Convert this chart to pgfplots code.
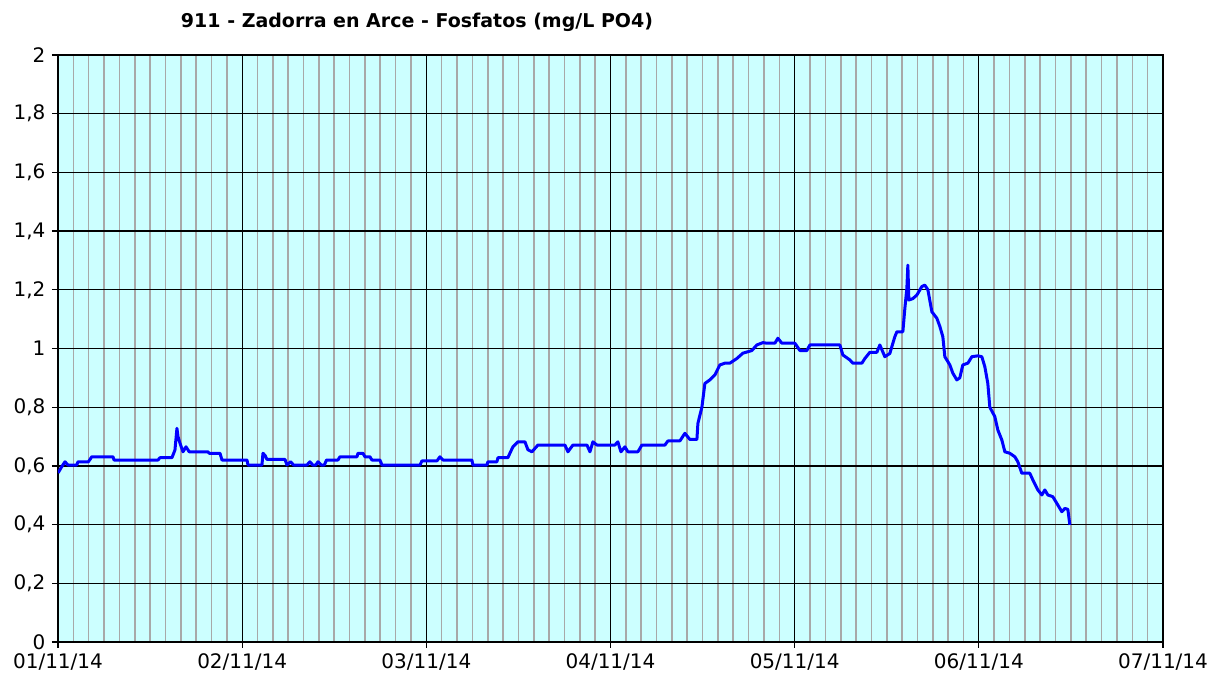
\documentclass[border=0pt]{standalone}
\usepackage{fontspec}
\setmainfont{DejaVu Sans}
\usepackage{pgfplots}
\pgfplotsset{compat=1.18}
\definecolor{bgcyan}{RGB}{204,255,255}
\definecolor{gridgray}{RGB}{168,168,168}
\definecolor{lineblue}{RGB}{0,0,255}
\begin{document}
\begin{tikzpicture}
\useasboundingbox (-58pt,-37pt) rectangle (1153pt,642pt);
\begin{axis}[
  at={(0pt,0pt)}, anchor=south west,
  scale only axis, width=1105pt, height=587pt,
  xmin=0, xmax=144, ymin=0, ymax=2,
  xtick={0,24,48,72,96,120,144},
  xticklabels={01/11/14,02/11/14,03/11/14,04/11/14,05/11/14,06/11/14,07/11/14},
  minor x tick num=11,
  ytick={0,0.2,0.4,0.6,0.8,1,1.2,1.4,1.6,1.8,2},
  /pgf/number format/use comma,
  /pgf/number format/assume math mode=true,
  grid=both,
  major grid style={black, line width=1.3pt},
  minor grid style={gridgray, line width=1.6pt},
  axis background/.style={fill=bgcyan},
  axis line style={black, line width=1.3pt},
  tick align=outside,
  xtick pos=left, ytick pos=left,
  major tick length=6pt, minor tick length=0pt,
  tick style={black, line width=1.3pt},
  tick label style={font=\fontsize{20}{22}\selectfont},
  xticklabel style={yshift=-2pt},
  yticklabel style={xshift=-3pt},
]
\addplot[lineblue, line width=3pt, line join=round] coordinates {
(0,0.576) (0.48,0.597) (0.91,0.614) (1.30,0.603) (2.44,0.603) (2.61,0.614) (3.95,0.614) (4.2,0.623) (4.39,0.631) (7.17,0.631) (7.3,0.620) (13.03,0.620) (13.29,0.628) (14.85,0.628) (15.24,0.654) (15.50,0.728) (15.64,0.700) (15.90,0.677) (16.29,0.648) (16.68,0.665) (17.1,0.648) (19.54,0.648) (19.7,0.643) (21.11,0.643) (21.37,0.620) (24.63,0.620) (24.76,0.603) (26.58,0.603) (26.71,0.643) (27.0,0.635) (27.23,0.622) (29.58,0.622) (29.84,0.603) (30.3,0.614) (30.7,0.603) (32.44,0.603) (32.83,0.614) (33.2,0.603) (33.6,0.603) (33.88,0.614) (34.3,0.603) (34.7,0.603) (35.0,0.620) (36.48,0.620) (36.74,0.631) (38.96,0.631) (39.09,0.643) (39.74,0.643) (40.0,0.631) (40.65,0.631) (40.91,0.620) (41.95,0.620) (42.22,0.603) (47.17,0.603) (47.43,0.617) (49.38,0.617) (49.77,0.631) (50.16,0.620) (53.94,0.620) (54.07,0.603) (55.90,0.603) (56.03,0.614) (57.20,0.614) (57.33,0.628) (58.63,0.628) (58.89,0.643) (59.28,0.665) (59.93,0.682) (60.85,0.682) (61.24,0.655) (61.76,0.648) (62.54,0.671) (66.06,0.671) (66.45,0.648) (67.10,0.671) (68.93,0.671) (69.32,0.648) (69.71,0.682) (70.23,0.671) (72.57,0.671) (72.96,0.682) (73.36,0.648) (73.88,0.665) (74.27,0.648) (75.57,0.648) (76.09,0.671) (79.09,0.671) (79.48,0.685) (81.04,0.685) (81.69,0.711) (82.35,0.690) (83.26,0.690) (83.39,0.745) (83.91,0.800) (84.30,0.881) (84.95,0.893) (85.60,0.910) (86.25,0.944) (86.91,0.950) (87.56,0.950) (88.47,0.966) (89.25,0.984) (90.42,0.993) (91.07,1.012) (91.86,1.020) (92.38,1.018) (93.42,1.018) (93.81,1.035) (94.33,1.018) (96.03,1.018) (96.68,0.993) (97.59,0.993) (97.98,1.012) (101.89,1.012) (102.28,0.978) (103.19,0.961) (103.58,0.950) (104.76,0.950) (105.15,0.966) (105.80,0.987) (106.71,0.987) (107.10,1.012) (107.75,0.972) (108.40,0.983) (109.05,1.040) (109.32,1.057) (110.10,1.057) (110.36,1.137) (110.62,1.205) (110.75,1.284) (110.88,1.165) (111.40,1.170) (111.92,1.182) (112.57,1.211) (112.96,1.216) (113.36,1.200) (113.88,1.125) (114.53,1.103) (114.92,1.075) (115.31,1.040) (115.57,0.972) (116.22,0.944) (116.61,0.916) (117.13,0.893) (117.52,0.900) (117.91,0.944) (118.57,0.950) (119.09,0.972) (119.87,0.975) (120.39,0.972) (120.78,0.938) (121.17,0.881) (121.43,0.800) (122.08,0.768) (122.48,0.722) (123.0,0.688) (123.39,0.648) (124.04,0.643) (124.69,0.631) (125.08,0.614) (125.60,0.575) (126.64,0.575) (127.04,0.552) (127.69,0.518) (128.21,0.501) (128.60,0.518) (128.99,0.501) (129.64,0.495) (130.29,0.467) (130.81,0.444) (131.21,0.455) (131.60,0.452) (131.86,0.399)
};
\end{axis}
\node[font=\fontsize{19}{22}\selectfont\bfseries] at (359pt,620pt) {911 - Zadorra en Arce - Fosfatos (mg/L PO4)};
\end{tikzpicture}
\end{document}
